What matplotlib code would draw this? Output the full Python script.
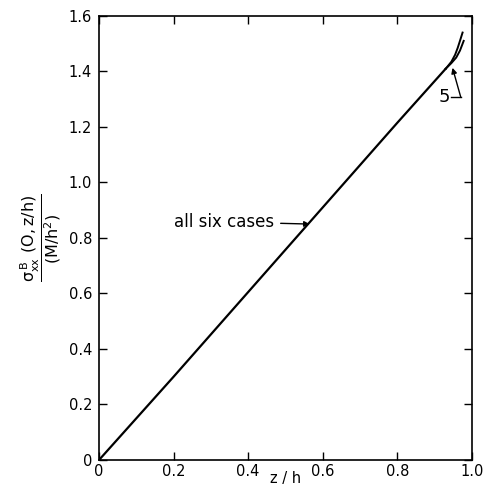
import matplotlib.pyplot as plt

# common straight part (all six cases)
z_common = [0.0, 0.2, 0.4, 0.6, 0.8, 0.93]
s_common = [0.0, 0.30, 0.605, 0.91, 1.215, 1.41]

# the two branches near the edge
z_upper = [0.93, 0.945, 0.955, 0.962, 0.968, 0.975]
s_upper = [1.41, 1.435, 1.46, 1.485, 1.51, 1.54]
z_lower = [0.93, 0.945, 0.958, 0.968, 0.978]
s_lower = [1.41, 1.43, 1.45, 1.475, 1.51]

xticks = [0, 0.2, 0.4, 0.6, 0.8, 1.0]
xtick_labels = ['0', '0.2', '0.4', '0.6', '0.8', '1.0']
yticks = [0, 0.2, 0.4, 0.6, 0.8, 1.0, 1.2, 1.4, 1.6]
ytick_labels = ['0', '0.2', '0.4', '0.6', '0.8', '1.0', '1.2', '1.4', '1.6']

fig = plt.figure(figsize=(4.83, 4.88), dpi=100)
ax = fig.add_axes([0.205, 0.0574, 0.772, 0.910])

ax.plot(z_common, s_common, color='black', lw=1.6, solid_capstyle='round')
ax.plot(z_upper, s_upper, color='black', lw=1.4)
ax.plot(z_lower, s_lower, color='black', lw=1.4)

ax.set_xlim(0, 1.0)
ax.set_ylim(0, 1.6)
ax.set_xticks(xticks)
ax.set_xticklabels(xtick_labels)
ax.set_yticks(yticks)
ax.set_yticklabels(ytick_labels)
ax.tick_params(direction='in', length=6, width=1, top=True, right=True,
               labelsize=10.5)
ax.tick_params(axis='x', pad=3)
ax.tick_params(axis='y', pad=5)
for sp in ax.spines.values():
    sp.set_linewidth(1.2)

# x label sits low, between 0.4 and 0.6
ax.text(0.5, -0.042, 'z / h', transform=ax.transAxes, ha='center', va='center',
        fontsize=10.5)

ax.set_ylabel(r'$\dfrac{\mathrm{\sigma_{xx}^{\,B}\ (O,z/h)}}{\mathrm{(M/h^2)}}$',
              fontsize=11.5, labelpad=4)

# annotations
ax.annotate('all six cases', xy=(0.565, 0.85), xytext=(0.2, 0.858),
            fontsize=12, va='center', ha='left',
            arrowprops=dict(arrowstyle='-|>', color='black', lw=1,
                            mutation_scale=8, shrinkA=3, shrinkB=0))
ax.text(0.925, 1.308, '5', fontsize=13, ha='center', va='center')
ax.plot([0.945, 0.97], [1.308, 1.308], color='black', lw=1)
ax.annotate('', xy=(0.948, 1.413), xytext=(0.97, 1.308),
            arrowprops=dict(arrowstyle='-|>', color='black', lw=1,
                            mutation_scale=8, shrinkA=0, shrinkB=0))

fig.savefig('out.png', dpi=100)
